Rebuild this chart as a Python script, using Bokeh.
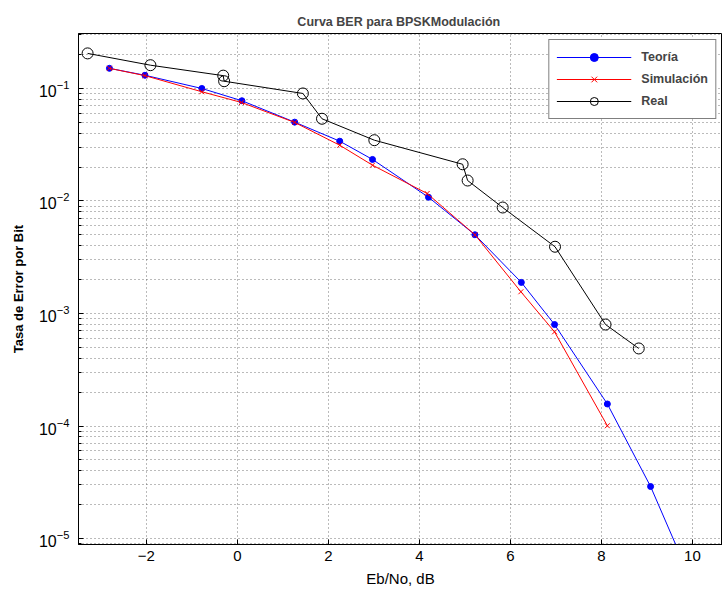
from bokeh.plotting import figure
from bokeh.models import Range1d, FixedTicker, Legend, LegendItem
from bokeh.embed import file_html
from bokeh.resources import INLINE

# ---- data ----
teoria_x = [-2.81, -2.03, -0.78, 0.10, 1.26, 2.25, 2.97, 4.20, 5.22, 6.24, 6.97, 8.13, 9.08, 10.0]
teoria_y = [0.151, 0.131, 0.100, 0.0778, 0.0502, 0.0340, 0.0234, 0.0108, 0.00501, 0.00189,
            0.000798, 0.000157, 2.9e-5, 4.0e-6]

sim_x = [-2.81, -2.03, -0.78, 0.09, 1.26, 2.25, 2.97, 4.17, 5.22, 6.23, 6.97, 8.13]
sim_y = [0.151, 0.130, 0.0935, 0.0751, 0.0499, 0.0313, 0.0208, 0.01166, 0.00501, 0.00156,
         0.000687, 0.0001005]

real_x = [-3.29, -1.91, -0.31, -0.29, 1.44, 1.86, 3.01, 4.95, 5.06, 5.83, 6.98, 8.09, 8.82]
real_y = [0.205, 0.161, 0.130, 0.116, 0.0903, 0.0538, 0.0347, 0.0212, 0.0152, 0.00875,
          0.00392, 0.000798, 0.000489]

x_ticks = [-2, 0, 2, 4, 6, 8, 10]
x_tick_labels = ["\u22122", "0", "2", "4", "6", "8", "10"]
y_ticks = [1e-5, 1e-4, 1e-3, 1e-2, 1e-1]
y_minor = [m * 10.0 ** d for d in range(-6, 0) for m in range(2, 10)]

title_text = "Curva BER para  BPSKModulación"
x_label = "Eb/No, dB"
y_label = "Tasa de Error por Bit"
series_names = ["Teoría", "Simulación", "Real"]

FONT = "Liberation Sans"

p = figure(width=722, height=594, output_backend="svg", toolbar_location=None,
           y_axis_type="log",
           x_range=Range1d(-3.49, 10.66), y_range=Range1d(8.85e-6, 0.308),
           min_border_left=78, min_border_right=0, min_border_top=33, min_border_bottom=50)

p.title.text = title_text
p.title.align = "center"
p.title.text_font = FONT
p.title.text_font_size = "12.5px"
p.title.text_font_style = "bold"
p.title.offset = 0

p.outline_line_color = "black"
p.outline_line_width = 1
p.background_fill_color = "white"
p.border_fill_color = "white"

# axes
p.xaxis.ticker = FixedTicker(ticks=x_ticks)
p.xaxis.major_label_overrides = {t: l for t, l in zip(x_ticks, x_tick_labels)}
p.yaxis.ticker = FixedTicker(ticks=y_ticks, minor_ticks=y_minor)

for ax in (p.xaxis[0], p.yaxis[0]):
    ax.axis_line_color = "black"
    ax.major_tick_line_color = "black"
    ax.major_tick_in = 5
    ax.major_tick_out = 0
    ax.major_label_text_font = FONT
    ax.major_label_text_color = "black"
    ax.axis_label_text_font = FONT
    ax.axis_label_text_color = "black"

p.xaxis.major_label_text_font_size = "15px"
p.yaxis.major_label_text_font_size = "16px"

p.xaxis.minor_tick_line_color = None
p.yaxis.minor_tick_line_color = "black"
p.yaxis.minor_tick_in = 3
p.yaxis.minor_tick_out = 0

p.xaxis.axis_label = x_label
p.xaxis.axis_label_text_font_size = "15px"
p.xaxis.axis_label_text_font_style = "normal"
p.xaxis.major_label_standoff = 6
p.xaxis.axis_label_standoff = 6

p.yaxis.axis_label = y_label
p.yaxis.axis_label_text_font_size = "13px"
p.yaxis.axis_label_text_font_style = "bold"
p.yaxis.major_label_standoff = 9
p.yaxis.axis_label_standoff = 10

# grids
p.xgrid.grid_line_color = "#555555"
p.xgrid.grid_line_dash = "1 3"
p.xgrid.grid_line_alpha = 0.8
p.ygrid.grid_line_color = "#555555"
p.ygrid.grid_line_dash = "1 3"
p.ygrid.grid_line_alpha = 0.8
p.ygrid.minor_grid_line_color = "#555555"
p.ygrid.minor_grid_line_dash = "1 3"
p.ygrid.minor_grid_line_alpha = 0.8

# series
l1 = p.line(teoria_x, teoria_y, line_color="#0000ff", line_width=1)
m1 = p.scatter(teoria_x, teoria_y, marker="circle", size=6, fill_color="#0000ff", line_color="#0000ff")
l2 = p.line(sim_x, sim_y, line_color="#ff0000", line_width=1)
m2 = p.scatter(sim_x, sim_y, marker="x", size=7, line_color="#ff0000", line_width=1)
l3 = p.line(real_x, real_y, line_color="black", line_width=1)
m3 = p.scatter(real_x, real_y, marker="circle", size=11, fill_color=None, line_color="black", line_width=1)

legend = Legend(items=[LegendItem(label=series_names[0], renderers=[l1, m1]),
                       LegendItem(label=series_names[1], renderers=[l2, m2]),
                       LegendItem(label=series_names[2], renderers=[l3, m3])],
                location="top_right")
legend.label_text_font = FONT
legend.label_text_font_size = "12.5px"
legend.label_text_font_style = "bold"
legend.glyph_width = 75
legend.glyph_height = 20
legend.label_height = 20
legend.label_standoff = 10
legend.spacing = 2
legend.padding = 7
legend.margin = 6
legend.border_line_color = "black"
legend.border_line_width = 1
legend.background_fill_color = "white"
legend.background_fill_alpha = 1.0
p.add_layout(legend)

open("out.html", "w").write(file_html(p, INLINE))
